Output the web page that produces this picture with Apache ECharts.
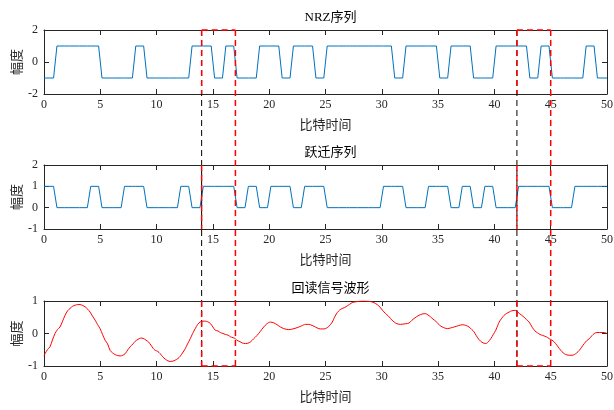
<!DOCTYPE html>
<html>
<head>
<meta charset="utf-8">
<script src="https://cdn.jsdelivr.net/npm/echarts@6/dist/echarts.min.js"></script>
<style>
  html, body { margin: 0; padding: 0; background: #fff; }
  #chart { width: 614px; height: 410px; }
</style>
</head>
<body>
<div id="chart"></div>
<script>
// NRZ 序列 (每比特一个值)
const nrzBits = [-1, 1, 1, 1, 1, -1, -1, -1, 1, -1, -1, -1, -1, 1, 1, -1, 1, -1, -1, 1,
  1, -1, 1, 1, -1, 1, 1, 1, 1, 1, 1, -1, 1, 1, 1, -1, 1, 1, -1, -1,
  1, 1, 1, -1, 1, -1, -1, -1, 1, -1]

// 跃迁序列
const transBits = [1, 0, 0, 0, 1, 0, 0, 1, 1, 0, 0, 0, 1, 0, 1, 1, 1, 0, 1, 0,
  1, 1, 0, 1, 1, 0, 0, 0, 0, 0, 1, 1, 0, 0, 1, 1, 0, 1, 0, 1,
  0, 0, 1, 1, 1, 0, 0, 1, 1, 1]

// 回读信号波形 (时间, 幅度)
const readT = [0, 0.3, 0.53, 0.75, 0.98, 1.2, 1.42, 1.65, 1.87, 2.1, 2.31, 2.55, 2.76, 3.0, 3.2, 3.45, 3.65, 3.9, 4.09, 4.3,
  4.54, 4.75, 4.98, 5.2, 5.43, 5.65, 5.87, 6.1, 6.32, 6.55, 6.76, 7.0, 7.21, 7.45, 7.65, 7.9, 8.1, 8.35, 8.6, 8.8,
  9.05, 9.28, 9.5, 9.7, 9.88, 10.1, 10.32, 10.55, 10.77, 11.0, 11.21, 11.45, 11.65, 11.9, 12.1, 12.3, 12.54, 12.75, 12.99, 13.2,
  13.43, 13.65, 13.88, 14.1, 14.32, 14.55, 14.77, 15.0, 15.21, 15.45, 15.66, 15.9, 16.1, 16.35, 16.55, 16.8, 17.0, 17.14, 17.4, 17.6,
  17.88, 18.1, 18.33, 18.6, 18.92, 19.2, 19.51, 19.8, 20.1, 20.4, 20.7, 21.0, 21.29, 21.74, 22.1, 22.48, 22.85, 23.22, 23.5, 23.81,
  24.1, 24.4, 24.7, 25.0, 25.3, 25.6, 25.8, 26.04, 26.25, 26.48, 26.7, 26.93, 27.15, 27.37, 27.6, 27.96, 28.3, 28.56, 28.85, 29.15,
  29.45, 29.74, 30.05, 30.34, 30.55, 30.78, 31.0, 31.23, 31.45, 31.67, 31.9, 32.12, 32.41, 32.65, 32.86, 33.1, 33.3, 33.6, 33.9, 34.1,
  34.34, 34.55, 34.79, 35.0, 35.23, 35.5, 35.83, 36.1, 36.42, 36.8, 37.16, 37.45, 37.75, 38.0, 38.19, 38.4, 38.64, 38.9, 39.23, 39.45,
  39.68, 39.9, 40.12, 40.3, 40.42, 40.65, 40.86, 41.1, 41.31, 41.55, 41.75, 41.95, 42.2, 42.4, 42.64, 42.85, 43.09, 43.38, 43.6, 43.83,
  44.05, 44.28, 44.6, 44.87, 45.1, 45.31, 45.55, 45.76, 46.0, 46.2, 46.45, 46.65, 46.9, 47.09, 47.3, 47.54, 47.75, 47.98, 48.2, 48.43,
  48.65, 48.87, 49.1, 49.32, 49.55, 49.76, 50]
const readV = [-0.68, -0.5, -0.41, -0.2, 0.0, 0.12, 0.2, 0.38, 0.56, 0.7, 0.77, 0.84, 0.87, 0.89, 0.89, 0.86, 0.82, 0.74, 0.66, 0.54,
  0.41, 0.28, 0.15, -0.03, -0.21, -0.32, -0.52, -0.6, -0.65, -0.68, -0.69, -0.67, -0.62, -0.5, -0.41, -0.32, -0.24, -0.18, -0.14, -0.15,
  -0.2, -0.26, -0.36, -0.46, -0.52, -0.55, -0.62, -0.72, -0.79, -0.84, -0.86, -0.85, -0.82, -0.77, -0.7, -0.6, -0.47, -0.32, -0.16, 0.0,
  0.15, 0.28, 0.36, 0.38, 0.38, 0.36, 0.31, 0.2, 0.1, 0.08, 0.03, 0.0, -0.03, -0.05, -0.1, -0.13, -0.16, -0.21, -0.25, -0.29,
  -0.31, -0.3, -0.26, -0.17, -0.06, 0.06, 0.2, 0.3, 0.35, 0.33, 0.27, 0.2, 0.15, 0.12, 0.14, 0.18, 0.23, 0.28, 0.28, 0.25,
  0.2, 0.15, 0.14, 0.15, 0.22, 0.35, 0.5, 0.64, 0.72, 0.77, 0.8, 0.85, 0.9, 0.95, 0.97, 0.99, 1.0, 1.0, 0.99, 0.97,
  0.92, 0.85, 0.72, 0.61, 0.55, 0.46, 0.38, 0.32, 0.29, 0.28, 0.29, 0.3, 0.32, 0.4, 0.46, 0.52, 0.56, 0.6, 0.61, 0.57,
  0.51, 0.44, 0.38, 0.3, 0.23, 0.18, 0.15, 0.17, 0.2, 0.24, 0.27, 0.25, 0.2, 0.12, 0.05, -0.07, -0.19, -0.27, -0.31, -0.26,
  -0.16, -0.03, 0.1, 0.25, 0.35, 0.47, 0.56, 0.62, 0.66, 0.7, 0.71, 0.7, 0.62, 0.57, 0.5, 0.43, 0.35, 0.18, 0.08, 0.02,
  -0.03, -0.06, -0.1, -0.16, -0.2, -0.26, -0.36, -0.46, -0.56, -0.62, -0.66, -0.67, -0.67, -0.65, -0.6, -0.52, -0.42, -0.31, -0.22, -0.16,
  -0.07, 0.0, 0.03, 0.03, 0.03, 0.03, 0.0]

// 标注窗口 (比特时间)
const windows = [[14, 17], [42, 45]]

const titles = ['NRZ序列', '跃迁序列', '回读信号波形']
const yRanges = [[-2, 2, 2], [-1, 2, 1], [-1, 1, 1]]

// 比特值 -> 折线点 (相邻比特间有短斜坡)
const toStepLine = (bits, r) => {
  const pts = []
  bits.forEach((b, i) => {
    pts.push([i === 0 ? 0 : i + r, b])
    pts.push([i === bits.length - 1 ? bits.length : i + 1 - r, b])
  })
  return pts
}

const FONT = '"Liberation Serif", "Noto Sans CJK SC", serif'
const AX = '#262626'
const grids = [
  {left: 44, right: 7, top: 30, height: 64, outerBoundsMode: 'none', containLabel: false},
  {left: 44, right: 7, top: 165, height: 64, outerBoundsMode: 'none', containLabel: false},
  {left: 44, right: 7, top: 301, height: 65, outerBoundsMode: 'none', containLabel: false}
]

const xAxes = []
const yAxes = []
grids.forEach((g, gi) => {
  const base = {
    type: 'value', gridIndex: gi, min: 0, max: 50, interval: 5,
    axisLine: {show: true, onZero: false, lineStyle: {color: AX, width: 1}},
    axisTick: {show: true, inside: true, length: 5, lineStyle: {color: AX}},
    splitLine: {show: false}
  }
  xAxes.push(Object.assign({}, base, {
    position: 'bottom',
    axisLabel: {color: AX, fontFamily: FONT, fontSize: 12, margin: 5},
    name: '比特时间', nameLocation: 'middle', nameGap: 25, nameMoveOverlap: false,
    nameTextStyle: {color: AX, fontFamily: FONT, fontSize: 13}
  }))
  xAxes.push(Object.assign({}, base, {position: 'top', axisLabel: {show: false}}))

  const [mn, mx, iv] = yRanges[gi]
  const yb = {
    type: 'value', gridIndex: gi, min: mn, max: mx, interval: iv,
    axisLine: {show: true, onZero: false, lineStyle: {color: AX, width: 1}},
    axisTick: {show: true, inside: true, length: 5, lineStyle: {color: AX}},
    splitLine: {show: false}
  }
  yAxes.push(Object.assign({}, yb, {
    position: 'left',
    axisLabel: {color: AX, fontFamily: FONT, fontSize: 12, margin: 6},
    name: '幅度', nameLocation: 'middle', nameGap: 20, nameMoveOverlap: false,
    nameTextStyle: {color: AX, fontFamily: FONT, fontSize: 13}
  }))
  yAxes.push(Object.assign({}, yb, {position: 'right', axisLabel: {show: false}}))
})

const chart = echarts.init(document.getElementById('chart'), null, {renderer: 'canvas'})
chart.setOption({
  animation: false,
  backgroundColor: '#fff',
  title: titles.map((t, i) => ({
    text: t, left: 44 + (614 - 51) / 2, textAlign: 'center', top: grids[i].top - 24,
    textStyle: {fontFamily: FONT, fontSize: 13, fontWeight: 'normal', color: '#000'}
  })),
  grid: grids,
  xAxis: xAxes,
  yAxis: yAxes,
  series: [
    {
      type: 'line', xAxisIndex: 0, yAxisIndex: 0, symbol: 'none',
      lineStyle: {color: '#0072BD', width: 1}, data: toStepLine(nrzBits, 0.15)
    },
    {
      type: 'line', xAxisIndex: 2, yAxisIndex: 2, symbol: 'none',
      lineStyle: {color: '#0072BD', width: 1}, data: toStepLine(transBits, 0.15)
    },
    {
      type: 'line', xAxisIndex: 4, yAxisIndex: 4, symbol: 'none', smooth: 0.3,
      lineStyle: {color: '#FF0000', width: 1}, data: readT.map((t, i) => [t, readV[i]])
    }
  ]
})

// 虚线标注：黑色竖线 + 红色矩形框
const px = (gi, x, y) => chart.convertToPixel({gridIndex: gi}, [x, y])
const dashLine = (p1, p2, color, w) => ({
  type: 'line', z: 100, silent: true,
  shape: {x1: p1[0], y1: p1[1], x2: p2[0], y2: p2[1]},
  style: {stroke: color, lineWidth: w, lineDash: [6, 4]}
})
const graphics = []
windows.forEach(([a, b]) => {
  const topA = px(0, a, 2), topB = px(0, b, 2)
  const botA = px(2, a, -1), botB = px(2, b, -1)
  graphics.push(dashLine(topA, botA, '#000', 1))
  graphics.push(dashLine(topA, topB, '#FF0000', 1.5))
  graphics.push(dashLine(topB, botB, '#FF0000', 1.5))
  graphics.push(dashLine(botA, botB, '#FF0000', 1.5))
  yRanges.forEach(([mn, mx], gi) => {
    graphics.push(dashLine(px(gi, a, mx), px(gi, a, mn), '#FF0000', 1.5))
  })
})
chart.setOption({graphic: graphics})
</script>
</body>
</html>
